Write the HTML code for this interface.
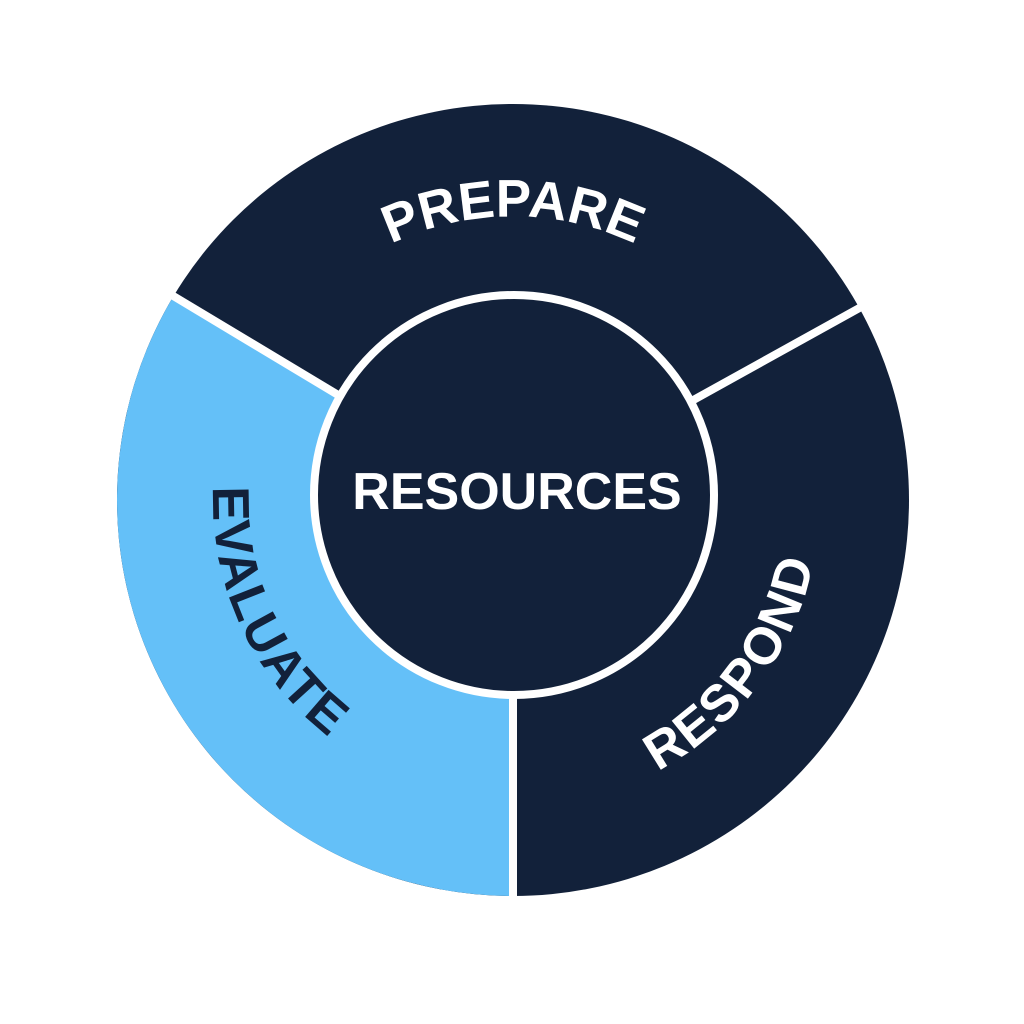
<!DOCTYPE html>
<html><head><style>html,body{margin:0;padding:0;background:#fff}svg{display:block}</style></head>
<body>
<svg width="1024" height="1024" viewBox="0 0 1024 1024" xmlns="http://www.w3.org/2000/svg">
<defs>
<path id="pPrep" d="M246.3,402.9 A284 284 0 0 1 779.7,402.9"/>
<path id="pEval" d="M267.3,327.9 A300 300 0 0 0 486.9,798.9"/>
<path id="pResp" d="M477.9,805 A306 306 0 0 0 794,378.5"/>
</defs>
<circle cx="513" cy="500" r="396" fill="#12213a"/>
<path d="M513,500 L513,896 A396 396 0 0 1 173.6,296 Z" fill="#64c0f8"/>
<g stroke="#fff" stroke-width="8">
<line x1="513" y1="500" x2="513" y2="910"/>
<line x1="513" y1="500" x2="160" y2="288"/>
<line x1="513" y1="500" x2="872" y2="301"/>
</g>
<circle cx="514" cy="495" r="200" fill="#12213a" stroke="#fff" stroke-width="8"/>
<g font-family="Liberation Sans, sans-serif" font-weight="bold">
<text font-size="53" fill="#fff"><textPath href="#pPrep" startOffset="50%" text-anchor="middle">PREPARE</textPath></text>
<text font-size="52" fill="#12213a" letter-spacing="2"><textPath href="#pEval" startOffset="50%" text-anchor="middle">EVALUATE</textPath></text>
<text font-size="52" fill="#fff" letter-spacing="2"><textPath href="#pResp" startOffset="50%" text-anchor="middle">RESPOND</textPath></text>
<text x="517" y="509" font-size="52" fill="#fff" text-anchor="middle">RESOURCES</text>
</g>
</svg>
</body></html>
